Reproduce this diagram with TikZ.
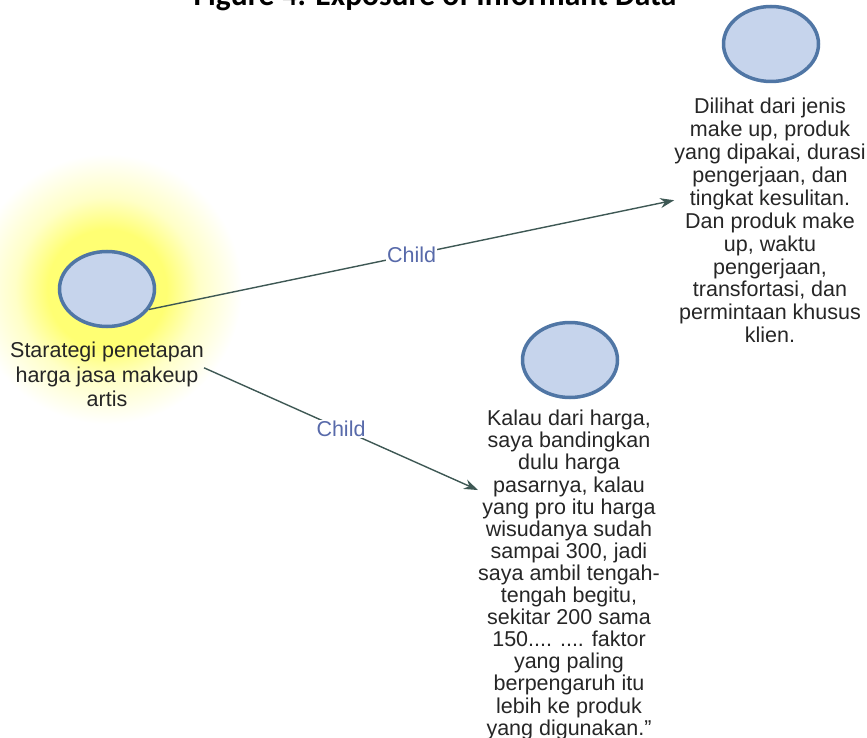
\documentclass[tikz,border=0pt]{standalone}
\usepackage{fontspec}
\setmainfont{Liberation Sans}
\newfontfamily\titlefont{Carlito}
\usepackage{xcolor}
\usepackage{tikz}
\usetikzlibrary{positioning}
\usetikzlibrary{arrows.meta, shapes.geometric}

\definecolor{bubblefill}{RGB}{198,212,236}
\definecolor{bubbleedge}{RGB}{80,118,165}
\definecolor{edgecol}{RGB}{62,88,84}
\definecolor{childblue}{RGB}{88,106,170}
\pgfdeclareradialshading{rootglow}{\pgfpoint{0bp}{0bp}}{color(0bp)=(yellow!55!white); color(11bp)=(yellow!55!white); color(17bp)=(yellow!22!white); color(25bp)=(white); color(50bp)=(white)}

\tikzset{
  bubble/.style={ellipse, draw=bubbleedge, line width=3.5pt, fill=bubblefill,
    minimum width=95pt, minimum height=75pt, inner sep=0pt},
  infotext/.style={anchor=north, align=center, inner sep=0pt, text=black!85},
  childedge/.style={draw=edgecol, line width=1.4pt, -{Stealth[length=14pt,width=10pt]}},
  childlbl/.style={fill=white, inner sep=1pt, text=childblue,
    font=\fontsize{21.5}{25}\selectfont}
}

\begin{document}
\begin{tikzpicture}[x=1pt, y=-1pt]
        \useasboundingbox (0,0) rectangle (867,738);
        \shade[shading=rootglow] (107,289) circle (135pt);
        \node[anchor=base, font=\titlefont\bfseries\fontsize{31.5}{36}\selectfont] (title) at (435,6) {Figure 4. Exposure of Informant Data};

        % root
        \node[bubble] (strategi) at (107,289) {};
        \node[infotext, font=\fontsize{21.5}{24.5}\selectfont] (strategilbl) at (107,342) {
            Starategi penetapan\\
            harga jasa makeup\\
            artis
        };

        % children
        \node[bubble] (faktor) at (771,44) {};
        \node[infotext, font=\fontsize{21.5}{22.9}\selectfont] (faktorlbl) at (770,98) {
            Dilihat dari jenis\\
            make up, produk\\
            yang dipakai, durasi\\
            pengerjaan, dan\\
            tingkat kesulitan.\\
            Dan produk make\\
            up, waktu\\
            pengerjaan,\\
            transfortasi, dan\\
            permintaan khusus\\
            klien.
        };
        \node[bubble] (harga) at (570,360) {};
        \node[infotext, font=\fontsize{21.5}{22.1}\selectfont] (hargalbl) at (569,410) {
            Kalau dari harga,\\
            saya bandingkan\\
            dulu harga\\
            pasarnya, kalau\\
            yang pro itu harga\\
            wisudanya sudah\\
            sampai 300, jadi\\
            saya ambil tengah-\\
            tengah begitu,\\
            sekitar 200 sama\\
            150.... .... faktor\\
            yang paling\\
            berpengaruh itu\\
            lebih ke produk\\
            yang digunakan.''
        };

        \draw[childedge] (strategi.-26) -- node[childlbl] {Child} (faktorlbl.168);
        \draw[childedge] (strategilbl.4) -- node[childlbl] {Child} (hargalbl.137);
\end{tikzpicture}
\end{document}
